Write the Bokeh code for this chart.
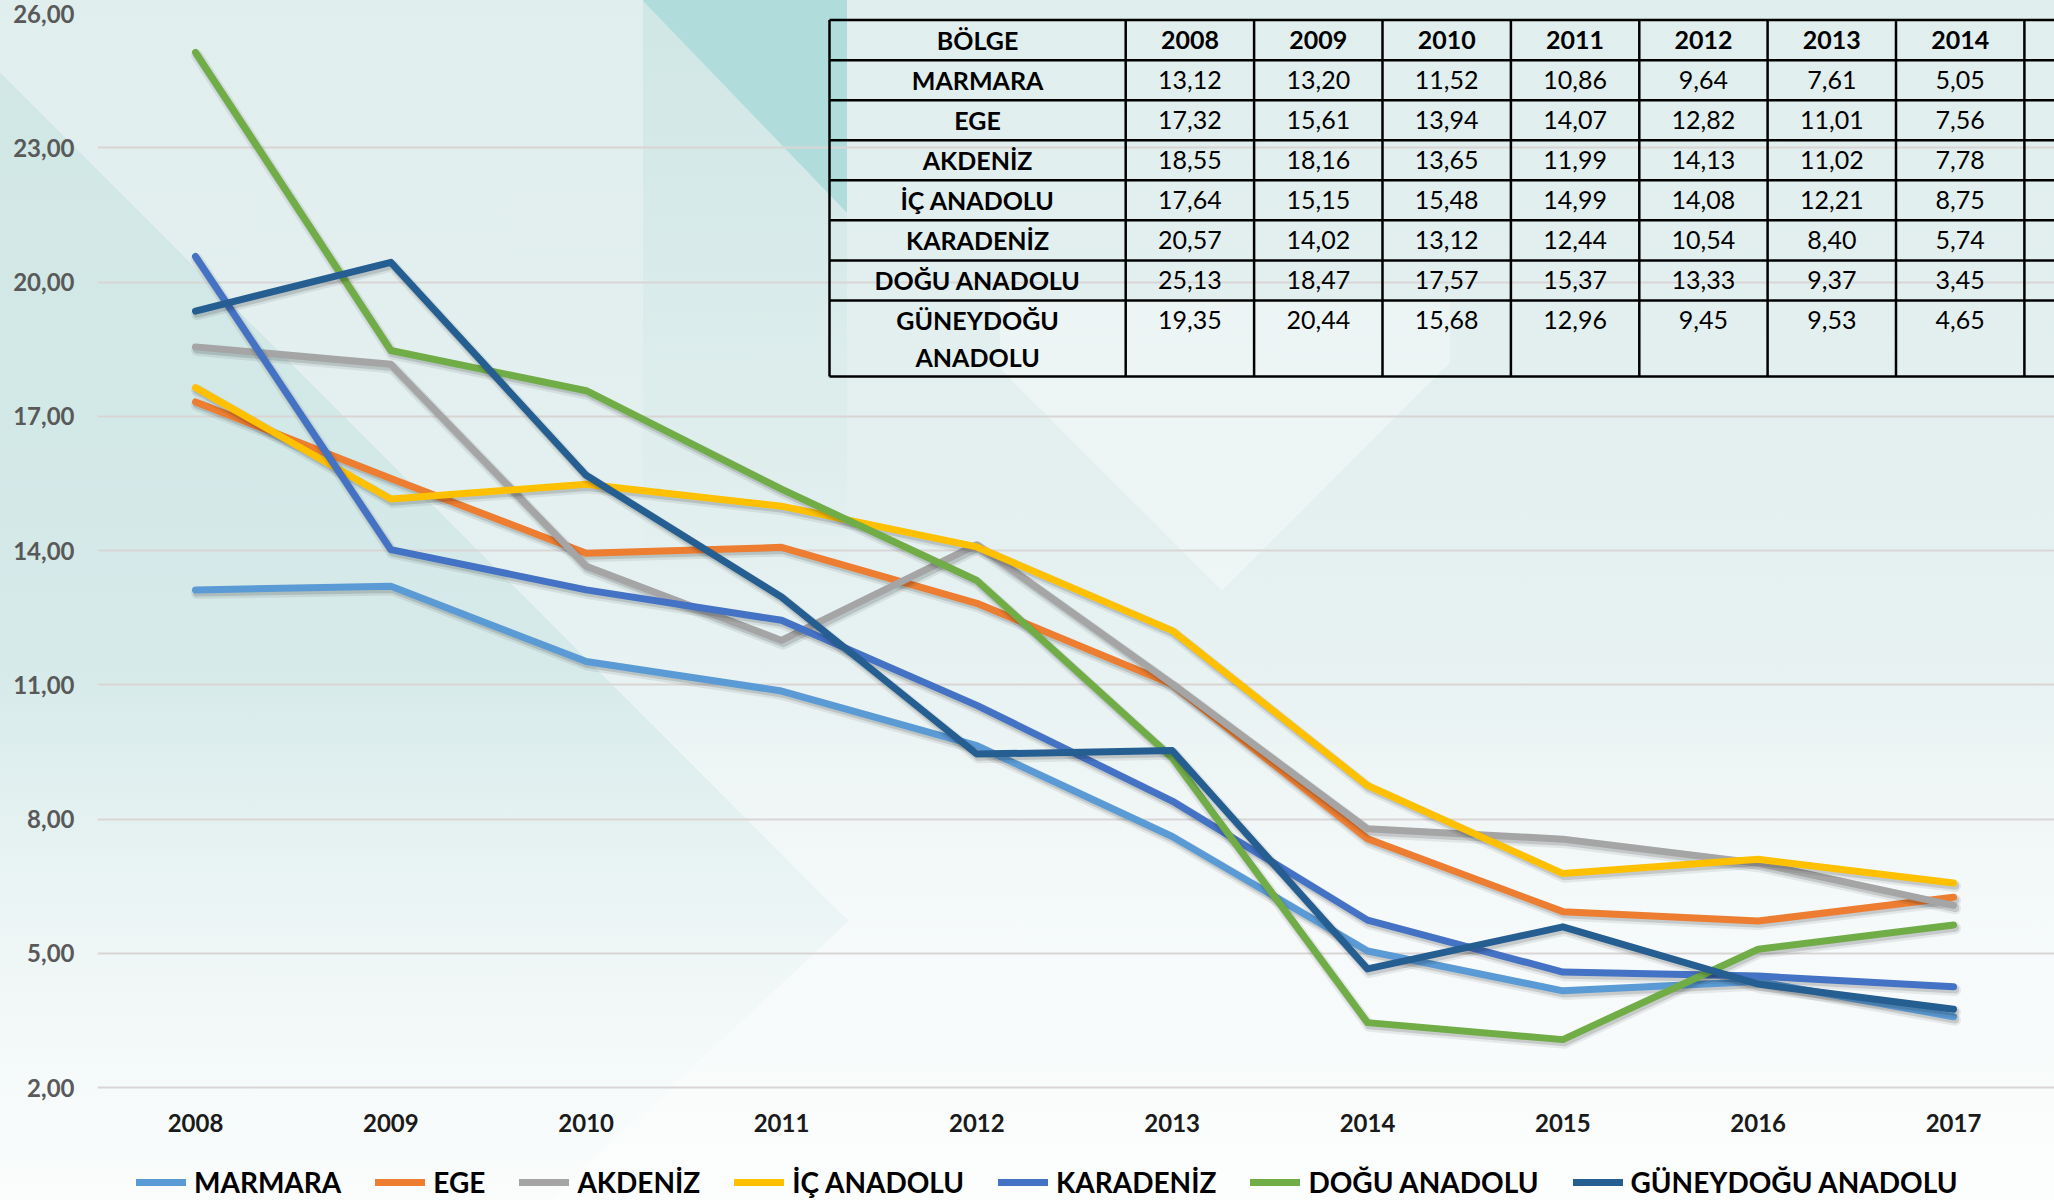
from bokeh.plotting import figure
from bokeh.models import ColumnDataSource, Range1d, FixedTicker, Legend, LegendItem
from bokeh.transform import dodge
from bokeh.core.properties import value
from bokeh.embed import file_html
from bokeh.resources import INLINE

# ---------------- data ----------------
years = [2008, 2009, 2010, 2011, 2012, 2013, 2014, 2015, 2016, 2017]
regions = ["MARMARA", "EGE", "AKDENİZ", "İÇ ANADOLU", "KARADENİZ", "DOĞU ANADOLU", "GÜNEYDOĞU ANADOLU"]
marmara = [13.12, 13.20, 11.52, 10.86, 9.64, 7.61, 5.05, 4.16, 4.37, 3.58]
ege = [17.32, 15.61, 13.94, 14.07, 12.82, 11.01, 7.56, 5.93, 5.72, 6.25]
akdeniz = [18.55, 18.16, 13.65, 11.99, 14.13, 11.02, 7.78, 7.55, 7.01, 6.07]
ic_anadolu = [17.64, 15.15, 15.48, 14.99, 14.08, 12.21, 8.75, 6.78, 7.10, 6.57]
karadeniz = [20.57, 14.02, 13.12, 12.44, 10.54, 8.40, 5.74, 4.58, 4.49, 4.25]
dogu_anadolu = [25.13, 18.47, 17.57, 15.37, 13.33, 9.37, 3.45, 3.07, 5.09, 5.63]
guneydogu_anadolu = [19.35, 20.44, 15.68, 12.96, 9.45, 9.53, 4.65, 5.59, 4.31, 3.75]
series = [marmara, ege, akdeniz, ic_anadolu, karadeniz, dogu_anadolu, guneydogu_anadolu]
colors = ["#5B9BD5", "#ED7D31", "#A5A5A5", "#FFC000", "#4472C4", "#70AD47", "#255E91"]
y_ticks = [2, 5, 8, 11, 14, 17, 20, 23, 26]
y_tick_labels = ["2,00", "5,00", "8,00", "11,00", "14,00", "17,00", "20,00", "23,00", "26,00"]
table_title = "BÖLGE"
table_years = years[:7]

# ---------------- layout ----------------
W, H = 2054, 1200
FL, FR, FT, FB = 97, 2054, 13, 1200  # frame edges (px)
AXIS_Y_PX = 1087                     # where the value 2 sits
PPY = (1953 - 195) / 9.0
X0 = 2008 - (195 - FL) / PPY
X1 = 2008 + (FR - 195) / PPY
PPU = (AXIS_Y_PX - FT) / 24.0
Y1 = 26
Y0 = 2 - (FB - AXIS_Y_PX) / PPU


def dx(px):
    return X0 + (px - FL) / PPY


def dy(py):
    return Y1 - (py - FT) / PPU


bg = ", ".join([
    "linear-gradient(to bottom left, #b0dcdc 50%, rgba(176,220,220,0) 50.4%) 643px 0px / 204px 212px no-repeat",
    "linear-gradient(to bottom, rgba(170,214,212,0.30) 0%, rgba(170,214,212,0) 100%) 643px 0px / 204px 600px no-repeat",
    "conic-gradient(from -45deg at 222px 290px, rgba(255,255,255,0.35) 0deg 90deg, rgba(255,255,255,0) 90deg) 1000px 300px / 450px 290px no-repeat",
    "linear-gradient(to bottom, rgba(250,252,252,0) 0%, rgba(250,252,252,0) 55%, rgba(248,251,251,0.75) 85%, rgba(252,253,253,0.95) 100%)",
    "conic-gradient(from 227deg at 849px 921px, rgba(165,212,210,0.26) 0deg 88deg, rgba(165,212,210,0) 88deg)",
    "linear-gradient(to bottom, #e0eeed 0%, #e3f0ef 40%, #e8f2f2 60%, #f1f7f7 76%, #f9fbfb 90%, #fdfefe 100%)",
])

p = figure(width=W, height=H, x_range=Range1d(X0, X1), y_range=Range1d(Y0, Y1),
           output_backend="svg", toolbar_location=None,
           min_border_left=FL, min_border_right=0, min_border_top=FT, min_border_bottom=0,
           background_fill_color=None, border_fill_color=None, outline_line_color=None,
           styles={"background": bg})

# axes
p.xaxis.ticker = FixedTicker(ticks=years)
p.xaxis.major_label_overrides = {y: str(y) for y in years}
p.xaxis.fixed_location = 2
p.yaxis.ticker = FixedTicker(ticks=y_ticks)
p.yaxis.major_label_overrides = dict(zip(y_ticks, y_tick_labels))
for ax in (p.xaxis, p.yaxis):
    ax.axis_line_color = None
    ax.major_tick_line_color = None
    ax.minor_tick_line_color = None
    ax.major_tick_out = 0
    ax.major_tick_in = 0
    ax.major_label_text_font = "Lato"
    ax.major_label_text_font_style = "bold"
    ax.major_label_text_font_size = "24px"
p.xaxis.major_label_standoff = 26
p.yaxis.major_label_standoff = 23
p.xaxis.major_label_text_color = "#1a1a1a"
p.yaxis.major_label_text_color = "#595959"
p.xgrid.grid_line_color = None
p.ygrid.grid_line_color = "#d9d5d5"
p.ygrid.grid_line_width = 2

# lines with soft shadow
items = []
for name, vals, col in zip(regions, series, colors):
    src = ColumnDataSource(dict(x=years, y=vals))
    p.line(x=dodge("x", 0.008), y=dodge("y", -0.07), source=src, line_color="#000000",
           line_alpha=0.07, line_width=12, line_join="round", line_cap="round")
    p.line(x=dodge("x", 0.008), y=dodge("y", -0.06), source=src, line_color="#000000",
           line_alpha=0.13, line_width=8, line_join="round", line_cap="round")
    r = p.line("x", "y", source=src, line_color=col, line_width=7,
               line_join="round", line_cap="round")
    items.append(LegendItem(label=name, renderers=[r]))

legend = Legend(items=items, orientation="horizontal", location=(39, 1.5),
                glyph_width=50, glyph_height=20, label_standoff=8, spacing=34,
                padding=0, margin=0, label_text_font="Lato", label_text_font_style="bold",
                label_text_font_size="28px", label_text_color="#000000",
                border_line_alpha=0, background_fill_alpha=0)
p.add_layout(legend)

# ---------------- table ----------------
col_edges = [829, 1125.2, 1253.6, 1382, 1510.4, 1638.8, 1767.1, 1895.5, 2023.9]
row_h = 40.05
row_top = 19.6
row_edges = [row_top + k * row_h for k in range(8)] + [376]
right_px = 2100

hseg = dict(x0=[dx(col_edges[0])] * len(row_edges), x1=[dx(right_px)] * len(row_edges),
            y0=[dy(v) for v in row_edges], y1=[dy(v) for v in row_edges])
p.segment(x0="x0", y0="y0", x1="x1", y1="y1", source=ColumnDataSource(hseg),
          line_color="black", line_width=2.5)
vseg = dict(x0=[dx(v) for v in col_edges], x1=[dx(v) for v in col_edges],
            y0=[dy(row_edges[0])] * len(col_edges), y1=[dy(row_edges[-1])] * len(col_edges))
p.segment(x0="x0", y0="y0", x1="x1", y1="y1", source=ColumnDataSource(vseg),
          line_color="black", line_width=2.5)

col_centers = [(col_edges[i] + col_edges[i + 1]) / 2 for i in range(len(col_edges) - 1)]
row_centers = [row_edges[k] + row_h / 2 for k in range(8)]

# header
hx = [dx(c) for c in col_centers]
ht = [table_title] + [str(y) for y in table_years]
p.text(x=hx, y=[dy(row_centers[0])] * len(hx), text=ht, text_font=value("Lato"),
       text_font_style="bold", text_font_size="25px", text_align="center",
       text_baseline="middle", text_color="black")

# row labels (long names wrapped over two lines) and values
lx, ly, lt = [], [], []
vx, vy, vt = [], [], []
for i, (name, vals) in enumerate(zip(regions, series)):
    yc = row_centers[i + 1]
    parts = [name] if len(name) <= 12 else name.split(" ")
    for j, part in enumerate(parts):
        lx.append(dx(col_centers[0]))
        ly.append(dy(yc + j * 37))
        lt.append(part)
    for j, v in enumerate(vals[:len(table_years)]):
        vx.append(dx(col_centers[j + 1]))
        vy.append(dy(yc))
        vt.append(f"{v:.2f}".replace(".", ","))
p.text(x=lx, y=ly, text=lt, text_font=value("Lato"), text_font_style="bold",
       text_font_size="25px", text_align="center", text_baseline="middle", text_color="black")
p.text(x=vx, y=vy, text=vt, text_font=value("Lato"), text_font_style="normal",
       text_font_size="25px", text_align="center", text_baseline="middle", text_color="black")

open("out.html", "w").write(file_html(p, INLINE))
